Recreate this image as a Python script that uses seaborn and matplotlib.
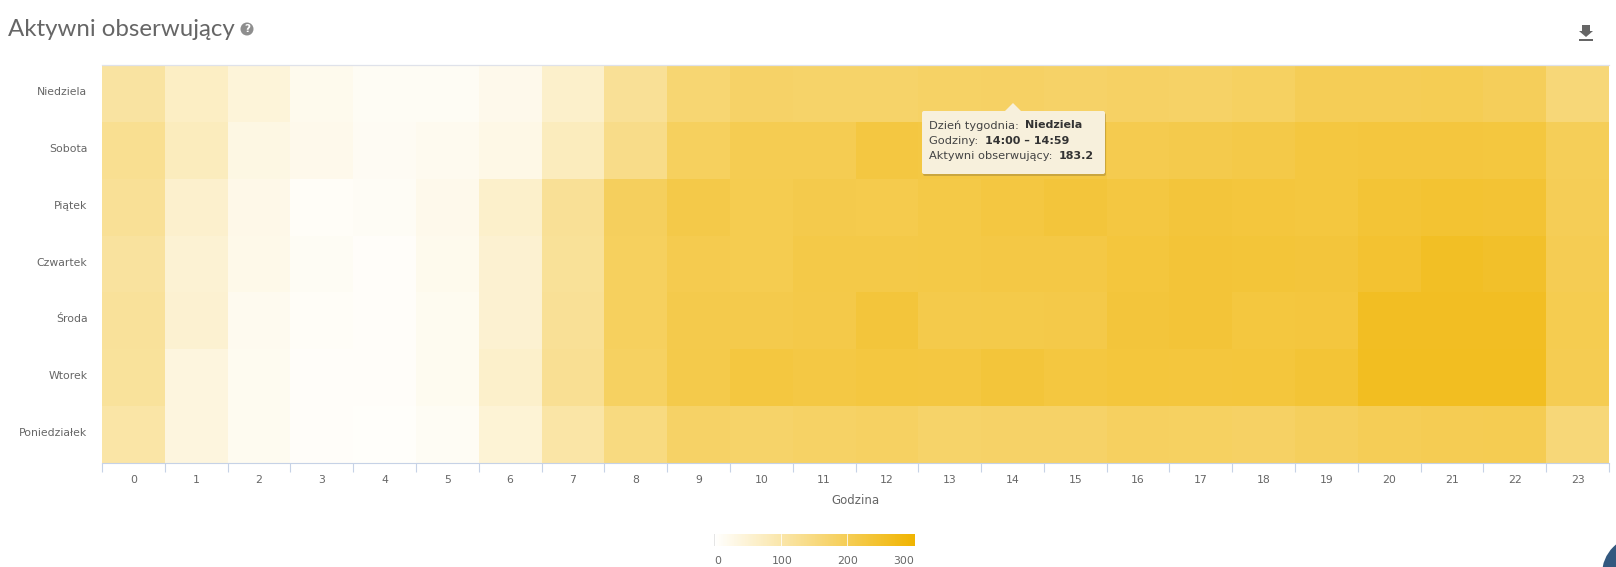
import matplotlib
matplotlib.use("Agg")
import matplotlib.pyplot as plt
import numpy as np
import pandas as pd
import seaborn as sns
from matplotlib.colors import LinearSegmentedColormap
from matplotlib.patches import Circle, FancyBboxPatch, Polygon, Rectangle
from matplotlib.transforms import ScaledTranslation

sns.set_theme(style="white")
plt.rcParams["font.family"] = ["DejaVu Sans"]

W, H = 1616, 567

days = ["Niedziela", "Sobota", "Piątek", "Czwartek", "Środa", "Wtorek", "Poniedziałek"]
hours = list(range(24))

niedziela = [112, 70, 46, 22, 14, 14, 24, 62, 124, 167, 180, 178, 178, 182, 183.2, 180, 183, 181, 187, 200, 200, 202, 195, 160]
sobota = [130, 78, 34, 24, 15, 20, 30, 78, 140, 190, 205, 205, 225, 222, 222, 222, 208, 212, 217, 226, 228, 228, 227, 198]
piatek = [125, 60, 28, 10, 12, 24, 62, 125, 192, 215, 207, 212, 210, 218, 225, 232, 225, 232, 230, 227, 238, 243, 240, 200]
czwartek = [115, 52, 26, 14, 8, 22, 55, 122, 190, 208, 207, 217, 217, 218, 220, 220, 229, 235, 234, 232, 244, 258, 252, 203]
sroda = [120, 55, 20, 10, 8, 18, 55, 125, 190, 212, 212, 215, 232, 213, 214, 215, 232, 235, 227, 228, 260, 260, 260, 207]
wtorek = [118, 40, 18, 8, 8, 18, 62, 128, 187, 213, 226, 221, 226, 225, 233, 226, 231, 230, 231, 238, 262, 262, 262, 205]
poniedzialek = [105, 40, 18, 8, 6, 14, 50, 105, 150, 181, 178, 182, 186, 178, 180, 180, 188, 187, 184, 192, 200, 204, 205, 160]

legend_ticks = [0, 100, 200, 300]
VMAX = 302

TEXT = "#666666"
TICK = "#c6d2e6"


def px_axes(fig, x0, y0, x1, y1):
    # pixel box (top-left origin) -> figure axes
    return fig.add_axes([x0 / W, 1 - y1 / H, (x1 - x0) / W, (y1 - y0) / H])


df = pd.DataFrame(
    [niedziela, sobota, piatek, czwartek, sroda, wtorek, poniedzialek],
    index=days, columns=hours,
)
cmap = LinearSegmentedColormap.from_list("followers", ["#ffffff", "#f0b400"])

fig = plt.figure(figsize=(W / 100, H / 100), dpi=100, facecolor="white")

# Heatmap
ax = px_axes(fig, 102, 65, 1609, 463)
sns.heatmap(df, ax=ax, cmap=cmap, vmin=0, vmax=VMAX, cbar=False, linewidths=0)
ax.set_xticks(np.arange(25), minor=True)
ax.set_xticks(np.arange(24) + 0.5)
ax.set_xticklabels(hours, rotation=0, fontsize=7.8, color=TEXT)
ax.set_yticklabels(days, rotation=0, fontsize=7.8, color=TEXT)
ax.tick_params(axis="x", which="major", length=0, pad=8.5)
ax.tick_params(axis="x", which="minor", length=6.5, width=0.8, color=TICK, bottom=True)
ax.tick_params(axis="y", length=0, pad=10.5)
for lab in ax.get_yticklabels():
    lab.set_transform(lab.get_transform() + ScaledTranslation(0, 1 / 72, fig.dpi_scale_trans))
ax.set_xlabel("Godzina", fontsize=8.5, color=TEXT, labelpad=6.4)
ax.set_ylabel("")
ax.spines["bottom"].set_visible(True)
ax.spines["bottom"].set_color(TICK)
ax.spines["bottom"].set_linewidth(0.8)
ax.spines["top"].set_visible(True)
ax.spines["top"].set_color("#dfe2ea")
ax.spines["top"].set_linewidth(0.9)

# Color legend
lax = px_axes(fig, 714, 534, 915, 546)
grad = pd.DataFrame([np.linspace(0, VMAX, 256)])
sns.heatmap(grad, ax=lax, cmap=cmap, vmin=0, vmax=VMAX, cbar=False, xticklabels=False, yticklabels=False)
lax.set_xlabel("")
lax.set_ylabel("")
for t in legend_ticks[1:3]:
    lax.axvline(t / VMAX * 256, color="white", lw=0.7, alpha=0.8)
lax.axvline(0, color="#e0e0e0", lw=1.2)

# Overlay in pixel coordinates for the page furniture
ov = fig.add_axes([0, 0, 1, 1], zorder=5)
ov.set_xlim(0, W)
ov.set_ylim(H, 0)
ov.axis("off")

for t, x in zip(legend_ticks, [718, 782, 848, 904]):
    ov.text(x, 561, str(t), ha="center", va="center", fontsize=7.8, color=TEXT)

ov.text(8, 29, "Aktywni obserwujący", ha="left", va="center", fontsize=17.3, color="#666666", family="Lato")
ov.add_patch(Circle((247, 29), 6.5, color="#8e8e8e", lw=0))
ov.text(247, 29, "?", ha="center", va="center", fontsize=7.5, color="white", fontweight="bold")

# Download icon
ov.add_patch(Polygon([(1582, 25), (1582, 31), (1579, 31), (1586, 37), (1593, 31), (1590, 31), (1590, 25)],
                     color="#666666", lw=0))
ov.add_patch(Rectangle((1579, 39), 14, 2, color="#666666", lw=0))

# Tooltip
bx0, by0, bx1, by1 = 922, 111, 1105, 174
ov.add_patch(FancyBboxPatch((bx0 + 1, by0 + 2), bx1 - bx0, by1 - by0, boxstyle="round,pad=0,rounding_size=2",
                            fc="#a88a3a", ec="none", alpha=0.55))
ov.add_patch(FancyBboxPatch((bx0, by0), bx1 - bx0, by1 - by0, boxstyle="round,pad=0,rounding_size=2",
                            fc="#f7f0dc", ec="none"))
ov.add_patch(Polygon([(1005, 111), (1013, 103), (1021, 111)], fc="#f7f0dc", ec="none"))

rows = [("Dzień tygodnia: ", "Niedziela"), ("Godziny: ", "14:00 – 14:59"), ("Aktywni obserwujący: ", "183.2")]
renderer = fig.canvas.get_renderer()
for (label, val), y in zip(rows, [125.5, 140.5, 156]):
    t = ov.text(929, y, label, ha="left", va="center", fontsize=8.2, color="#444444")
    w = t.get_window_extent(renderer).width
    ov.text(929 + w + 3, y, val, ha="left", va="center", fontsize=8, color="#333333", fontweight="bold")

# Chat bubble clipped by the corner
ov.add_patch(Circle((1640, 574), 38, fc="#33587f", ec="none", clip_on=True))

fig.savefig("out.png", dpi=100)
